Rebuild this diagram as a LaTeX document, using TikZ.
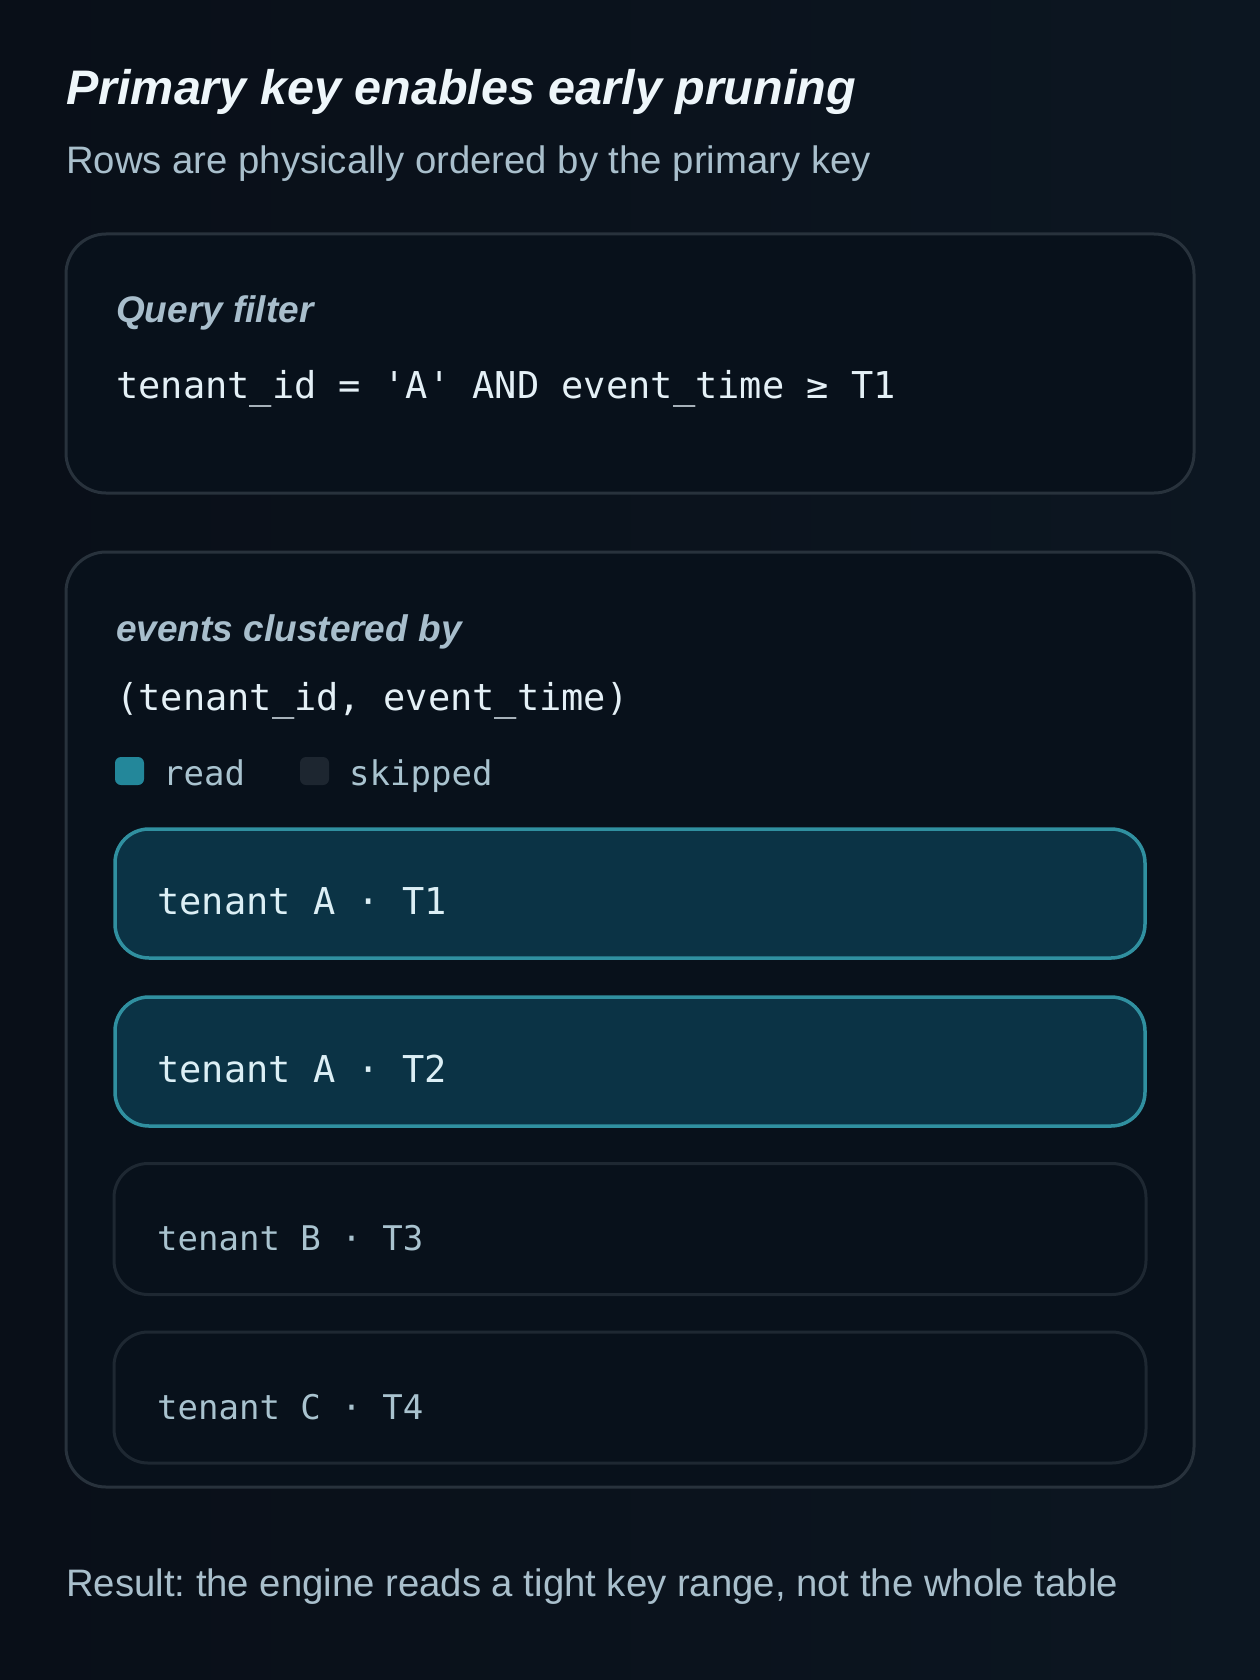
\documentclass[tikz,border=0pt]{standalone}
\usepackage{fontspec}
\setmainfont{Liberation Sans}
\setmonofont{DejaVu Sans Mono}
\usepackage{xcolor}
\frenchspacing

\definecolor{bgtop}{HTML}{090F18}
\definecolor{bgside}{HTML}{0C1621}
\definecolor{panelfill}{HTML}{08111B}
\definecolor{panelline}{HTML}{28323C}
\definecolor{titlecol}{HTML}{EEF6FA}
\definecolor{subcol}{HTML}{A9BFCC}
\definecolor{labcol}{HTML}{A8BECC}
\definecolor{codecol}{HTML}{E4F0F6}
\definecolor{readfill}{HTML}{0B3345}
\definecolor{readline}{HTML}{3090A0}
\definecolor{readsq}{HTML}{23879A}
\definecolor{skipsq}{HTML}{1D2630}
\definecolor{skipline}{HTML}{1E2832}
\definecolor{readtxt}{HTML}{DCEFF5}
\definecolor{skiptxt}{HTML}{A9C3CF}

\begin{document}
\begin{tikzpicture}[x=1pt,y=-1pt,
	txt/.style={inner sep=0pt,anchor=base west},
	titletxt/.style={txt,titlecol,font=\fontsize{48.5}{58}\selectfont\bfseries\itshape},
	subtxt/.style={txt,subcol,font=\fontsize{38.3}{46}\selectfont},
	labtxt/.style={txt,labcol,font=\fontsize{37}{44}\selectfont\bfseries\itshape},
	codetxt/.style={txt,codecol,font=\fontsize{37}{44}\selectfont\ttfamily},
	legtxt/.style={txt,skiptxt,font=\fontsize{34}{41}\selectfont\ttfamily},
	panel/.style={draw=panelline,fill=panelfill,line width=3pt,rounded corners=40pt,inner sep=0pt},
	legsq/.style={rounded corners=6pt,minimum width=29pt,minimum height=28pt,inner sep=0pt},
	rowread/.style={draw=readline,fill=readfill,line width=3.5pt,rounded corners=34pt,
		minimum width=1030pt,minimum height=129pt,inner sep=0pt},
	rowskip/.style={draw=skipline,fill=panelfill,line width=3pt,rounded corners=34pt,
		minimum width=1032pt,minimum height=131pt,inner sep=0pt},
	readrowtxt/.style={txt,readtxt,font=\fontsize{37}{44}\selectfont\ttfamily},
	skiprowtxt/.style={txt,skiptxt,font=\fontsize{34}{41}\selectfont\ttfamily}]
	% background
	\useasboundingbox (0,0) rectangle (1260,1680);
	\shade[left color=bgtop,right color=bgside] (0,0) rectangle (1260,1680);

	\node[titletxt] (title) at (66,105) {Primary key enables early pruning};
	\node[subtxt] (subtitle) at (66,174) {Rows are physically ordered by the primary key};

	% query filter panel
	\node[panel,minimum width=1128pt,minimum height=259pt] (qpanel) at (630,363.5) {};
	\node[labtxt] (qlabel) at (116,322) {Query filter};
	\node[codetxt] (qcode) at (116,398) {tenant\_id = 'A' AND event\_time ≥ T1};

	% clustered table panel
	\node[panel,minimum width=1128pt,minimum height=935pt] (tpanel) at (630,1019.5) {};
	\node[labtxt] (tlabel) at (116,641) {events clustered by};
	\node[codetxt] (tkey) at (116,710) {(tenant\_id, event\_time)};

	\node[legsq,fill=readsq] (sqread) at (129.5,771) {};
	\node[legtxt] (lread) at (163,785) {read};
	\node[legsq,fill=skipsq] (sqskip) at (314.5,771) {};
	\node[legtxt] (lskip) at (349,785) {skipped};

	% rows
	\node[rowread] (rowa1) at (630,893.5) {};
	\node[readrowtxt] at (157,914) {tenant A · T1};
	\node[rowread] (rowa2) at (630,1061.5) {};
	\node[readrowtxt] at (157,1082) {tenant A · T2};
	\node[rowskip] (rowb3) at (630,1229) {};
	\node[skiprowtxt] at (157,1250) {tenant B · T3};
	\node[rowskip] (rowc4) at (630,1397.5) {};
	\node[skiprowtxt] at (157,1419) {tenant C · T4};

	\node[subtxt] (result) at (66,1596) {Result: the engine reads a tight key range, not the whole table};
\end{tikzpicture}
\end{document}
